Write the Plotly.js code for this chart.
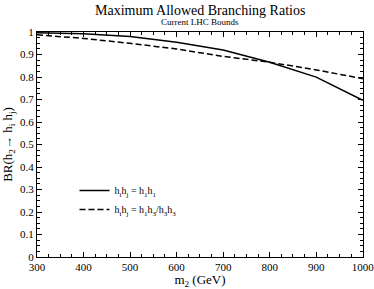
<!DOCTYPE html>
<html><head><meta charset="utf-8">
<script src="https://cdn.plot.ly/plotly-3.0.1.min.js"></script>
<style>html,body{margin:0;padding:0;background:#fff}</style>
</head><body>
<div id="chart" style="width:374px;height:289px"></div>
<script>
const massGeV = [300, 400, 500, 600, 700, 800, 900, 1000];
const brH1H1 = [0.997, 0.993, 0.98, 0.955, 0.92, 0.866, 0.80, 0.697];
const brH1H3 = [0.988, 0.972, 0.95, 0.925, 0.892, 0.866, 0.832, 0.793];
const seriesNames = ["h<sub>i</sub>h<sub>j</sub> = h<sub>1</sub>h<sub>1</sub>", "h<sub>i</sub>h<sub>j</sub> = h<sub>1</sub>h<sub>3</sub>/h<sub>3</sub>h<sub>3</sub>"];

const serif = "'Liberation Serif', 'DejaVu Serif', serif";
const traces = [
  {x: massGeV, y: brH1H1, mode: "lines", name: seriesNames[0], line: {color: "#000", width: 1.5}},
  {x: massGeV, y: brH1H3, mode: "lines", name: seriesNames[1], line: {color: "#000", width: 1.5, dash: "6px,3px"}}
];
const axisCommon = {
  showgrid: false, zeroline: false, showline: true, linecolor: "#000", linewidth: 1,
  mirror: "ticks", ticks: "inside", ticklen: 5, tickcolor: "#000", tickwidth: 1,
  ticklabeloverflow: "allow",
  tickfont: {family: serif, size: 11, color: "#000"}
};
const layout = {
  width: 374, height: 289,
  margin: {l: 37, r: 11, t: 32, b: 32},
  paper_bgcolor: "#fff", plot_bgcolor: "#fff",
  font: {family: serif, color: "#000"},
  showlegend: true,
  legend: {x: 0.115, y: 0.36, xanchor: "left", yanchor: "top", bgcolor: "rgba(0,0,0,0)",
           font: {family: serif, size: 10, color: "#000"}, itemwidth: 30, tracegroupgap: 2},
  xaxis: Object.assign({}, axisCommon, {
    range: [300, 1000.5], dtick: 100, tick0: 300,
    minor: {dtick: 25, ticklen: 3, tickcolor: "#000", ticks: "inside"},
    title: {text: "m<sub>2</sub> (GeV)", font: {family: serif, size: 13, color: "#000"}, standoff: 1}
  }),
  yaxis: Object.assign({}, axisCommon, {
    range: [0, 1.0005], dtick: 0.1, tick0: 0,
    minor: {dtick: 0.025, ticklen: 3, tickcolor: "#000", ticks: "inside"},
    title: {text: "BR(h<sub>2</sub>→ h<sub>i</sub> h<sub>j</sub>)", font: {family: serif, size: 13, color: "#000"}, standoff: 6}
  }),
  annotations: [
    {text: "Maximum Allowed Branching Ratios", xref: "paper", yref: "paper", x: 0.5, y: 1, yanchor: "middle", yshift: 22,
     showarrow: false, font: {family: serif, size: 14, color: "#000"}},
    {text: "Current LHC Bounds", xref: "paper", yref: "paper", x: 0.5, y: 1, yanchor: "middle", yshift: 10,
     showarrow: false, font: {family: serif, size: 9, color: "#000"}}
  ]
};
Plotly.newPlot("chart", traces, layout, {displayModeBar: false, staticPlot: true});
</script>
</body></html>
